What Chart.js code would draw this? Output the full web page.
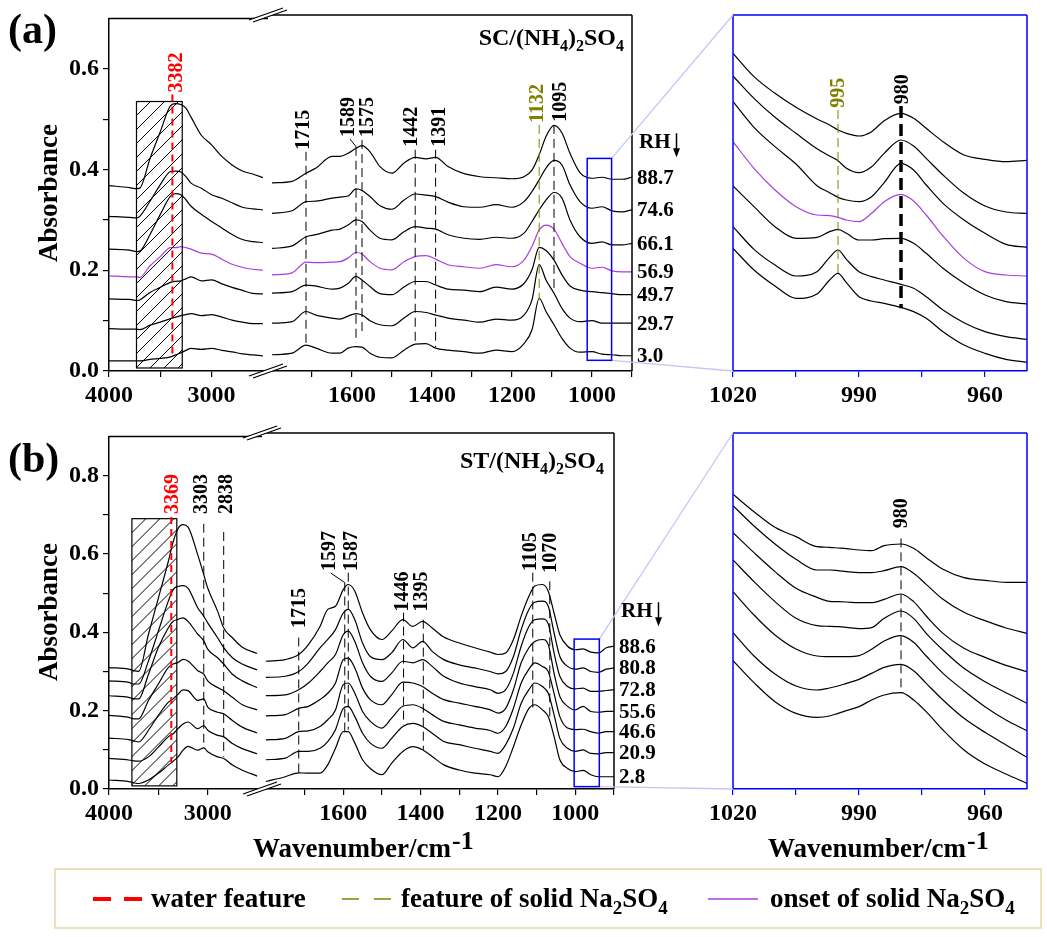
<!DOCTYPE html>
<html>
<head>
<meta charset="utf-8">
<script src="https://cdn.jsdelivr.net/npm/chart.js@4.4.0/dist/chart.umd.min.js"></script>
<style>
  body { margin: 0; background: #fff; }
  #page { position: relative; width: 1047px; height: 937px; }
  canvas { position: absolute; }
</style>
</head>
<body>
<div id="page">
  <canvas id="aL" width="268" height="410" style="left:0;top:0"></canvas>
  <canvas id="aR" width="368" height="410" style="left:268px;top:0"></canvas>
  <canvas id="aI" width="347" height="410" style="left:700px;top:0"></canvas>
  <canvas id="bL" width="262" height="410" style="left:0;top:418px"></canvas>
  <canvas id="bR" width="356" height="410" style="left:262px;top:418px"></canvas>
  <canvas id="bI" width="347" height="410" style="left:700px;top:418px"></canvas>
  <canvas id="ov" width="1047" height="937" style="left:0;top:0;pointer-events:none"></canvas>
</div>
<script>
// wavenumber grids (cm-1)
const WN_HI_A = [4000, 3800, 3730, 3700, 3600, 3500, 3400, 3350, 3300, 3250, 3200, 3100, 3000, 2900, 2800, 2700, 2600, 2500];
const WN_HI_B = [4000, 3800, 3750, 3700, 3600, 3500, 3400, 3350, 3300, 3250, 3200, 3100, 3040, 3000, 2900, 2838, 2750, 2650, 2500];
const WN_LO_A = [1800, 1750, 1715, 1690, 1650, 1630, 1610, 1590, 1575, 1555, 1530, 1500, 1470, 1442, 1415, 1391, 1360,
                 1320, 1280, 1240, 1200, 1170, 1150, 1132, 1115, 1095, 1075, 1055, 1030, 1000, 975, 950, 925, 900];
const WN_LO_B = [1800, 1750, 1715, 1690, 1660, 1640, 1620, 1600, 1587, 1570, 1550, 1530, 1500, 1475, 1446, 1420, 1395,
                 1370, 1340, 1300, 1260, 1220, 1200, 1180, 1160, 1140, 1120, 1105, 1085, 1070, 1055, 1040, 1020, 1000,
                 980, 960, 940, 920, 900];
const WN_IN = [1020, 1015, 1010, 1005, 1000, 997, 995, 993, 990, 987, 984, 980, 977, 974, 970, 965, 960, 955, 950];

const RH_A = ['88.7', '74.6', '66.1', '56.9', '49.7', '29.7', '3.0'];
const RH_B = ['88.6', '80.8', '72.8', '55.6', '46.6', '20.9', '2.8'];

// (a) SC/(NH4)2SO4, absorbance, top spectrum first
const A_HI = [
  [0.368, 0.364, 0.362, 0.363, 0.422, 0.475, 0.527, 0.531, 0.529, 0.522, 0.504, 0.468, 0.449, 0.426, 0.409, 0.397, 0.391, 0.384],
  [0.307, 0.305, 0.304, 0.307, 0.337, 0.370, 0.396, 0.397, 0.395, 0.386, 0.373, 0.363, 0.350, 0.343, 0.334, 0.325, 0.322, 0.320],
  [0.242, 0.240, 0.237, 0.238, 0.271, 0.311, 0.347, 0.352, 0.350, 0.340, 0.327, 0.311, 0.297, 0.284, 0.271, 0.261, 0.257, 0.255],
  [0.189, 0.187, 0.187, 0.186, 0.209, 0.227, 0.245, 0.245, 0.247, 0.245, 0.242, 0.234, 0.232, 0.222, 0.212, 0.206, 0.202, 0.200],
  [0.143, 0.142, 0.140, 0.141, 0.156, 0.166, 0.176, 0.178, 0.179, 0.183, 0.187, 0.179, 0.181, 0.173, 0.166, 0.160, 0.154, 0.153],
  [0.084, 0.083, 0.083, 0.082, 0.091, 0.097, 0.104, 0.107, 0.110, 0.112, 0.114, 0.110, 0.112, 0.107, 0.101, 0.097, 0.094, 0.094],
  [0.020, 0.020, 0.020, 0.020, 0.023, 0.025, 0.028, 0.032, 0.036, 0.041, 0.045, 0.043, 0.045, 0.041, 0.038, 0.034, 0.032, 0.030]
];
const A_LO = [
  [0.370, 0.373, 0.389, 0.399, 0.422, 0.422, 0.428, 0.438, 0.443, 0.431, 0.402, 0.389, 0.409, 0.420, 0.417, 0.420, 0.402,
   0.388, 0.382, 0.380, 0.378, 0.382, 0.395, 0.425, 0.461, 0.483, 0.468, 0.428, 0.390, 0.379, 0.381, 0.377, 0.377, 0.381],
  [0.310, 0.315, 0.333, 0.334, 0.340, 0.342, 0.344, 0.358, 0.355, 0.343, 0.325, 0.318, 0.336, 0.348, 0.346, 0.343, 0.332,
   0.323, 0.322, 0.327, 0.322, 0.333, 0.353, 0.376, 0.399, 0.414, 0.405, 0.366, 0.333, 0.320, 0.323, 0.315, 0.313, 0.317],
  [0.241, 0.246, 0.264, 0.268, 0.277, 0.279, 0.287, 0.297, 0.294, 0.277, 0.261, 0.258, 0.274, 0.284, 0.281, 0.279, 0.268,
   0.261, 0.259, 0.263, 0.261, 0.271, 0.294, 0.317, 0.336, 0.351, 0.340, 0.297, 0.264, 0.251, 0.254, 0.248, 0.248, 0.251],
  [0.189, 0.193, 0.214, 0.213, 0.214, 0.215, 0.222, 0.233, 0.230, 0.215, 0.202, 0.199, 0.215, 0.225, 0.227, 0.220, 0.209,
   0.205, 0.202, 0.209, 0.205, 0.218, 0.245, 0.277, 0.287, 0.279, 0.251, 0.225, 0.212, 0.202, 0.204, 0.197, 0.195, 0.195],
  [0.153, 0.156, 0.169, 0.167, 0.161, 0.163, 0.172, 0.186, 0.179, 0.166, 0.152, 0.150, 0.165, 0.176, 0.176, 0.169, 0.161,
   0.159, 0.156, 0.165, 0.161, 0.172, 0.199, 0.243, 0.237, 0.218, 0.189, 0.167, 0.159, 0.156, 0.154, 0.152, 0.150, 0.150],
  [0.094, 0.097, 0.117, 0.110, 0.104, 0.102, 0.108, 0.113, 0.110, 0.099, 0.091, 0.089, 0.104, 0.117, 0.115, 0.110, 0.104,
   0.100, 0.096, 0.102, 0.100, 0.110, 0.140, 0.209, 0.179, 0.153, 0.123, 0.104, 0.097, 0.099, 0.094, 0.094, 0.094, 0.094],
  [0.032, 0.035, 0.051, 0.045, 0.035, 0.035, 0.045, 0.048, 0.047, 0.035, 0.027, 0.026, 0.041, 0.053, 0.054, 0.045, 0.041,
   0.038, 0.035, 0.041, 0.038, 0.054, 0.081, 0.143, 0.117, 0.091, 0.064, 0.045, 0.037, 0.038, 0.033, 0.032, 0.030, 0.030]
];
// zoomed 1020-950 region, arbitrary offset units
const A_IN = [
  [95.3, 88.3, 83.3, 79.1, 75.6, 73.8, 72.3, 71.3, 70.5, 71.8, 75.1, 77.3, 75.8, 72.8, 68.8, 64.8, 63.5, 62.8, 63.2],
  [88.5, 81.8, 76.1, 71.3, 66.7, 64.5, 63.1, 60.8, 59.5, 61.3, 65.3, 69.3, 67.5, 63.8, 58.8, 53.3, 49.5, 47.7, 47.3],
  [80.8, 73.1, 67.3, 62.1, 55.6, 53.5, 52.1, 51.3, 50.8, 52.3, 56.5, 62.3, 60.3, 55.8, 50.3, 45.3, 41.3, 38.0, 37.1],
  [68.8, 60.8, 54.3, 49.3, 46.8, 46.6, 46.1, 45.3, 44.8, 47.3, 50.8, 53.0, 51.0, 46.8, 40.5, 33.8, 29.8, 28.8, 28.5],
  [55.5, 49.3, 43.3, 39.8, 40.1, 41.8, 42.5, 41.3, 39.3, 39.3, 39.7, 39.8, 38.3, 35.3, 30.8, 26.3, 22.8, 20.8, 20.1],
  [43.3, 36.5, 31.8, 28.5, 29.8, 34.1, 36.3, 33.5, 29.8, 28.3, 27.3, 26.0, 24.8, 22.3, 18.3, 14.5, 11.8, 10.3, 9.5],
  [36.8, 30.3, 25.5, 21.8, 23.1, 27.3, 29.3, 26.5, 22.3, 21.0, 20.3, 19.1, 17.8, 15.8, 11.8, 7.8, 5.3, 3.5, 2.6]
];

// (b) ST/(NH4)2SO4
const B_HI = [
  [0.310, 0.306, 0.302, 0.300, 0.395, 0.487, 0.580, 0.631, 0.665, 0.675, 0.669, 0.597, 0.547, 0.513, 0.454, 0.411, 0.386, 0.362, 0.346],
  [0.276, 0.272, 0.268, 0.268, 0.327, 0.403, 0.479, 0.509, 0.517, 0.519, 0.513, 0.462, 0.441, 0.424, 0.386, 0.361, 0.335, 0.319, 0.304],
  [0.238, 0.234, 0.230, 0.230, 0.293, 0.361, 0.411, 0.428, 0.433, 0.437, 0.428, 0.395, 0.378, 0.357, 0.335, 0.319, 0.293, 0.276, 0.259],
  [0.188, 0.183, 0.179, 0.179, 0.226, 0.268, 0.310, 0.319, 0.323, 0.331, 0.327, 0.302, 0.293, 0.276, 0.259, 0.251, 0.234, 0.215, 0.202],
  [0.130, 0.126, 0.123, 0.120, 0.150, 0.188, 0.221, 0.230, 0.242, 0.253, 0.251, 0.226, 0.230, 0.209, 0.196, 0.192, 0.175, 0.158, 0.143],
  [0.078, 0.074, 0.072, 0.071, 0.082, 0.107, 0.133, 0.141, 0.154, 0.166, 0.171, 0.154, 0.162, 0.150, 0.137, 0.133, 0.116, 0.103, 0.090],
  [0.023, 0.019, 0.016, 0.014, 0.023, 0.040, 0.061, 0.071, 0.082, 0.099, 0.109, 0.099, 0.105, 0.095, 0.082, 0.078, 0.061, 0.048, 0.033]
];
const B_LO = [
  [0.323, 0.327, 0.340, 0.365, 0.411, 0.454, 0.462, 0.504, 0.517, 0.500, 0.445, 0.403, 0.378, 0.399, 0.428, 0.411, 0.424, 0.407, 0.384, 0.369,
   0.357, 0.346, 0.340, 0.344, 0.378, 0.437, 0.487, 0.513, 0.517, 0.500, 0.445, 0.390, 0.361, 0.352, 0.354, 0.346, 0.344, 0.357, 0.361],
  [0.282, 0.285, 0.297, 0.319, 0.357, 0.378, 0.403, 0.445, 0.454, 0.428, 0.369, 0.335, 0.327, 0.344, 0.378, 0.357, 0.373, 0.348, 0.327, 0.314,
   0.306, 0.297, 0.291, 0.297, 0.335, 0.403, 0.454, 0.472, 0.475, 0.462, 0.395, 0.335, 0.310, 0.303, 0.306, 0.297, 0.295, 0.303, 0.306],
  [0.236, 0.238, 0.251, 0.268, 0.297, 0.319, 0.340, 0.390, 0.399, 0.373, 0.319, 0.285, 0.272, 0.293, 0.323, 0.319, 0.327, 0.310, 0.285, 0.268,
   0.259, 0.251, 0.242, 0.251, 0.293, 0.361, 0.411, 0.428, 0.430, 0.418, 0.344, 0.285, 0.259, 0.253, 0.255, 0.247, 0.247, 0.249, 0.251],
  [0.185, 0.188, 0.204, 0.209, 0.226, 0.242, 0.268, 0.327, 0.331, 0.306, 0.255, 0.226, 0.213, 0.238, 0.270, 0.268, 0.259, 0.242, 0.226, 0.217,
   0.209, 0.200, 0.192, 0.204, 0.251, 0.319, 0.357, 0.373, 0.378, 0.365, 0.293, 0.234, 0.209, 0.200, 0.209, 0.196, 0.194, 0.196, 0.196],
  [0.124, 0.128, 0.145, 0.147, 0.158, 0.175, 0.200, 0.264, 0.268, 0.242, 0.196, 0.171, 0.154, 0.179, 0.209, 0.213, 0.204, 0.188, 0.171, 0.162,
   0.154, 0.148, 0.141, 0.158, 0.204, 0.268, 0.303, 0.319, 0.310, 0.297, 0.242, 0.183, 0.154, 0.150, 0.151, 0.145, 0.141, 0.145, 0.145],
  [0.074, 0.078, 0.095, 0.095, 0.103, 0.120, 0.150, 0.204, 0.209, 0.183, 0.141, 0.116, 0.103, 0.128, 0.158, 0.166, 0.158, 0.141, 0.120, 0.112,
   0.103, 0.095, 0.090, 0.112, 0.154, 0.217, 0.251, 0.268, 0.259, 0.242, 0.188, 0.128, 0.103, 0.095, 0.099, 0.090, 0.089, 0.092, 0.092],
  [0.019, 0.031, 0.041, 0.040, 0.040, 0.061, 0.103, 0.145, 0.145, 0.116, 0.074, 0.052, 0.036, 0.065, 0.095, 0.107, 0.099, 0.082, 0.061, 0.048,
   0.040, 0.036, 0.031, 0.057, 0.107, 0.162, 0.204, 0.213, 0.200, 0.183, 0.133, 0.074, 0.052, 0.044, 0.047, 0.036, 0.031, 0.031, 0.031]
];
const B_IN = [
  [88.4, 83.2, 78.5, 75.7, 72.7, 72.5, 72.3, 72.1, 71.7, 71.5, 73.0, 73.5, 72.2, 69.4, 65.9, 63.4, 62.6, 62.0, 62.0],
  [85.0, 78.9, 73.5, 68.9, 65.7, 65.7, 65.5, 65.2, 64.9, 64.9, 65.5, 66.7, 64.7, 61.4, 56.9, 53.0, 50.5, 48.3, 46.7],
  [76.9, 70.9, 65.2, 60.2, 57.5, 56.3, 56.2, 56.1, 55.9, 55.9, 56.9, 58.5, 56.2, 51.9, 46.7, 42.2, 39.5, 37.1, 35.2],
  [68.7, 62.2, 56.2, 51.2, 49.0, 48.8, 48.7, 48.5, 48.1, 48.4, 51.2, 53.4, 51.2, 46.7, 41.7, 36.2, 32.2, 28.9, 25.7],
  [59.2, 52.2, 46.2, 42.0, 39.9, 39.7, 39.7, 39.7, 40.0, 41.9, 44.4, 46.0, 44.0, 39.9, 34.7, 29.5, 24.7, 20.7, 17.5],
  [46.9, 39.9, 34.5, 30.9, 29.7, 30.3, 30.9, 31.7, 32.9, 34.7, 36.5, 37.4, 35.5, 31.7, 26.7, 21.2, 17.0, 13.2, 9.5],
  [38.5, 31.9, 26.2, 22.7, 21.5, 21.9, 22.7, 23.5, 24.7, 26.7, 28.2, 28.9, 26.7, 23.2, 17.7, 11.7, 7.5, 4.5, 1.7]
];

// marked bands: wavenumber, dashed line top/bottom, label foot (same units as the panel)
const PEAKS_A = [
  {seg: 'hi', wn: 3382, top: 0.549, bot: 0.028, text: 0.553, label: '3382', kind: 'water'},
  {seg: 'lo', wn: 1715, top: 0.431, bot: 0.055, text: 0.435, label: '1715'},
  {seg: 'lo', wn: 1590, top: 0.441, bot: 0.055, text: 0.460, label: '1589', lead: true},
  {seg: 'lo', wn: 1575, top: 0.454, bot: 0.071, text: 0.460, label: '1575'},
  {seg: 'lo', wn: 1442, top: 0.435, bot: 0.051, text: 0.441, label: '1442'},
  {seg: 'lo', wn: 1391, top: 0.435, bot: 0.047, text: 0.441, label: '1391'},
  {seg: 'lo', wn: 1132, top: 0.484, bot: 0.140, text: 0.488, label: '1132', kind: 'solid'},
  {seg: 'lo', wn: 1095, top: 0.484, bot: 0.153, text: 0.490, label: '1095'},
  {seg: 'in', wn: 995, top: 78.3, bot: 28.8, text: 79.0, label: '995', kind: 'solid'},
  {seg: 'in', wn: 980, top: 79.5, bot: 18.8, text: 80.0, label: '980', kind: 'onset'}
];
const PEAKS_B = [
  {seg: 'hi', wn: 3369, top: 0.694, bot: 0.069, text: 0.702, label: '3369', kind: 'water'},
  {seg: 'hi', wn: 3040, top: 0.677, bot: 0.107, text: 0.702, label: '3303'},
  {seg: 'hi', wn: 2838, top: 0.656, bot: 0.082, text: 0.702, label: '2838'},
  {seg: 'lo', wn: 1715, top: 0.383, bot: 0.041, text: 0.407, label: '1715'},
  {seg: 'lo', wn: 1596, top: 0.522, bot: 0.142, text: 0.551, label: '1597', lead: true},
  {seg: 'lo', wn: 1587, top: 0.547, bot: 0.150, text: 0.551, label: '1587'},
  {seg: 'lo', wn: 1444, top: 0.446, bot: 0.162, text: 0.449, label: '1446'},
  {seg: 'lo', wn: 1393, top: 0.428, bot: 0.099, text: 0.449, label: '1395'},
  {seg: 'lo', wn: 1110, top: 0.547, bot: 0.196, text: 0.551, label: '1105'},
  {seg: 'lo', wn: 1066, top: 0.525, bot: 0.175, text: 0.547, label: '1070'},
  {seg: 'in', wn: 980, top: 75.2, bot: 28.7, text: 78.2, label: '980'}
];
const NUDGE_A = {'3382': 3, '1715': -3, '1589': -8, '1575': 5, '1442': -4, '1391': 3, '1132': -2, '1095': 6, '980': 1};
const NUDGE_B = {'3369': 1, '3303': -3, '2838': 2, '1597': -16, '1587': 3, '1446': -2, '1395': -2, '1105': -3};

// hatched O-H region and zoom window: [wn from, wn to, abs low, abs high]
const HATCH_A = [3732, 3286, 0.006, 0.535];
const HATCH_B = [3768, 3313, 0.008, 0.690];
const ZOOM_A = [1012, 951, 0.021, 0.418];
const ZOOM_B = [1003, 938, 0.006, 0.379];

const SERIF = '"Liberation Serif", "Times New Roman", serif';
const TICK_FONT = {family: SERIF, size: 24, weight: 'bold'};
const PURPLE = '#a83ee0';
const OLIVE = '#808000';
const COL_A = ['#000', '#000', '#000', PURPLE, '#000', '#000', '#000'];
const COL_B = ['#000', '#000', '#000', '#000', '#000', '#000', '#000'];

const frame = {
  id: 'frame',
  afterDraw(chart, args, opts) {
    const a = chart.chartArea, ctx = chart.ctx;
    ctx.save();
    ctx.strokeStyle = opts.color;
    ctx.lineWidth = 1.5;
    ctx.beginPath();
    if (opts.sides.includes('top')) { ctx.moveTo(a.left, a.top); ctx.lineTo(a.right, a.top); }
    if (opts.sides.includes('right')) { ctx.moveTo(a.right, a.top); ctx.lineTo(a.right, a.bottom); }
    if (opts.sides.includes('left')) { ctx.moveTo(a.left, a.top); ctx.lineTo(a.left, a.bottom); }
    ctx.stroke();
    ctx.restore();
  }
};

function spectrum(id, xs, rows, colors, s) {
  const yTicks = s.yTicks || [];
  const yLabels = s.yLabels || [];
  return new Chart(document.getElementById(id), {
    type: 'line',
    data: {
      datasets: rows.map((r, i) => ({
        data: r.map((v, j) => ({x: xs[j], y: v})),
        borderColor: colors[i],
        borderWidth: 1.2,
        pointRadius: 0,
        cubicInterpolationMode: 'monotone',
        fill: false
      }))
    },
    options: {
      responsive: false,
      animation: false,
      events: [],
      layout: {padding: s.pad},
      plugins: {legend: {display: false}, tooltip: {enabled: false}, frame: {sides: s.sides, color: s.ink}},
      scales: {
        x: {
          type: 'linear', reverse: true, min: s.x[0], max: s.x[1],
          afterBuildTicks: sc => { sc.ticks = s.xTicks.map(v => ({value: v})); },
          afterFit: sc => { sc.height = 39; },
          ticks: {autoSkip: false, maxRotation: 0, padding: 4, color: '#000', font: TICK_FONT,
                  callback: v => s.xLabels.includes(v) ? String(v) : ''},
          grid: {drawOnChartArea: false, tickLength: 6, color: s.ink, lineWidth: 1.2},
          border: {color: s.ink, width: 1.5}
        },
        y: {
          type: 'linear', display: yTicks.length > 0, min: 0, max: s.y,
          afterBuildTicks: sc => { sc.ticks = yTicks.map(v => ({value: v})); },
          afterFit: sc => { sc.width = yTicks.length ? 109 : 0; },
          ticks: {autoSkip: false, padding: 4, color: '#000', font: TICK_FONT,
                  callback: v => yLabels.includes(v) ? v.toFixed(1) : ''},
          grid: {drawOnChartArea: false, tickLength: 6, color: s.ink, lineWidth: 1.2},
          border: {color: s.ink, width: 1.5}
        }
      }
    },
    plugins: [frame]
  });
}

const LO_TICKS = [1700, 1600, 1500, 1400, 1300, 1200, 1100, 1000, 900];
const LO_LABELS = [1600, 1400, 1200, 1000];
const IN_TICKS = [1020, 1005, 990, 975, 960];
const IN_LABELS = [1020, 990, 960];
const PAD_MAIN = {left: 0, right: 0, top: 15, bottom: 0};
const PAD_IN = {left: 33, right: 20, top: 15, bottom: 0};

const A = {
  hi: {ox: 0, oy: 0, chart: spectrum('aL', WN_HI_A, A_HI, COL_A, {pad: PAD_MAIN, sides: ['top'], ink: '#000',
        x: [2450, 4000], xTicks: [4000, 3500, 3000], xLabels: [4000, 3000], y: 0.7,
        yTicks: [0, 0.1, 0.2, 0.3, 0.4, 0.5, 0.6], yLabels: [0, 0.2, 0.4, 0.6]})},
  lo: {ox: 268, oy: 0, chart: spectrum('aR', WN_LO_A, A_LO, COL_A, {pad: PAD_MAIN, sides: ['top', 'right'], ink: '#000',
        x: [900, 1810], xTicks: LO_TICKS, xLabels: LO_LABELS, y: 0.7})},
  in: {ox: 700, oy: 0, chart: spectrum('aI', WN_IN, A_IN, COL_A, {pad: PAD_IN, sides: ['top', 'right', 'left'], ink: '#0000ff',
        x: [950, 1020], xTicks: IN_TICKS, xLabels: IN_LABELS, y: 106.8})}
};
const B = {
  hi: {ox: 0, oy: 418, chart: spectrum('bL', WN_HI_B, B_HI, COL_B, {pad: PAD_MAIN, sides: ['top'], ink: '#000',
        x: [2450, 4000], xTicks: [4000, 3500, 3000], xLabels: [4000, 3000], y: 0.9,
        yTicks: [0, 0.1, 0.2, 0.3, 0.4, 0.5, 0.6, 0.7, 0.8], yLabels: [0, 0.2, 0.4, 0.6, 0.8]})},
  lo: {ox: 262, oy: 418, chart: spectrum('bR', WN_LO_B, B_LO, COL_B, {pad: PAD_MAIN, sides: ['top', 'right'], ink: '#000',
        x: [900, 1810], xTicks: LO_TICKS, xLabels: LO_LABELS, y: 0.9})},
  in: {ox: 700, oy: 418, chart: spectrum('bI', WN_IN, B_IN, COL_B, {pad: PAD_IN, sides: ['top', 'right', 'left'], ink: '#0000ff',
        x: [950, 1020], xTicks: IN_TICKS, xLabels: IN_LABELS, y: 106.8})}
};

// ---------- overlay: annotations, labels, legend ----------
const ov = document.getElementById('ov').getContext('2d');

function at(p, x, y) {
  return [p.ox + p.chart.scales.x.getPixelForValue(x), p.oy + p.chart.scales.y.getPixelForValue(y)];
}
function area(p) {
  const a = p.chart.chartArea;
  return {left: p.ox + a.left, right: p.ox + a.right, top: p.oy + a.top, bottom: p.oy + a.bottom};
}
function font(size, bold) { return (bold === false ? '' : 'bold ') + size + 'px ' + SERIF; }

function rich(parts, x, y, size, subSize, align) {
  let w = 0;
  parts.forEach(([t, sub]) => { ov.font = font(sub ? subSize : size); w += ov.measureText(t).width; });
  let cx = align === 'right' ? x - w : x;
  ov.textAlign = 'left';
  ov.textBaseline = 'alphabetic';
  parts.forEach(([t, sub]) => {
    ov.font = font(sub ? subSize : size);
    ov.fillText(t, cx, sub ? y + size * 0.27 : y);
    cx += ov.measureText(t).width;
  });
}

function peakStyle(kind) {
  if (kind === 'water') return {color: '#ff0000', width: 2, dash: [7, 5]};
  if (kind === 'solid') return {color: OLIVE, width: 1, dash: [9, 5]};
  if (kind === 'onset') return {color: '#000', width: 3.5, dash: [12, 6]};
  return {color: '#000', width: 1, dash: [9, 5]};
}

function drawPeaks(P, peaks, nudge) {
  peaks.forEach(pk => {
    const p = P[pk.seg];
    const st = peakStyle(pk.kind);
    const [x, y1] = at(p, pk.wn, pk.top);
    const y2 = at(p, pk.wn, pk.bot)[1];
    const yt = at(p, pk.wn, pk.text)[1];
    ov.save();
    ov.strokeStyle = st.color;
    ov.lineWidth = st.width;
    ov.setLineDash(st.dash);
    ov.beginPath(); ov.moveTo(x, y1); ov.lineTo(x, y2); ov.stroke();
    ov.setLineDash([]);
    const tx = x + (nudge[pk.label] || 0);
    if (pk.lead) {
      ov.lineWidth = 1;
      ov.beginPath(); ov.moveTo(tx + 2, yt + 2); ov.lineTo(x, y1); ov.stroke();
    }
    ov.translate(tx, yt);
    ov.rotate(-Math.PI / 2);
    ov.fillStyle = st.color;
    ov.font = font(20);
    ov.textAlign = 'left';
    ov.textBaseline = 'middle';
    ov.fillText(pk.label, 0, 1);
    ov.restore();
  });
}

function drawHatch(p, box) {
  const [x0, y0] = at(p, box[0], box[3]);
  const [x1, y1] = at(p, box[1], box[2]);
  ov.save();
  ov.beginPath(); ov.rect(x0, y0, x1 - x0, y1 - y0); ov.clip();
  ov.beginPath();
  const h = y1 - y0;
  for (let s = x0 - h; s < x1; s += 14) { ov.moveTo(s, y1); ov.lineTo(s + h, y0); }
  ov.strokeStyle = '#000'; ov.lineWidth = 1; ov.stroke();
  ov.restore();
  ov.strokeStyle = '#000'; ov.lineWidth = 1.2;
  ov.strokeRect(x0, y0, x1 - x0, y1 - y0);
}

function drawZoom(P, box) {
  const [x0, y0] = at(P.lo, box[0], box[3]);
  const [x1, y1] = at(P.lo, box[1], box[2]);
  const ia = area(P.in);
  ov.save();
  ov.strokeStyle = '#c6c6f6'; ov.lineWidth = 1.3;
  ov.beginPath();
  ov.moveTo(x1, y0); ov.lineTo(ia.left, ia.top);
  ov.moveTo(x1, y1); ov.lineTo(ia.left, ia.bottom);
  ov.stroke();
  ov.strokeStyle = '#0000ff'; ov.lineWidth = 1.5;
  ov.strokeRect(x0, y0, x1 - x0, y1 - y0);
  ov.restore();
}

function drawBreak(P) {
  const a = area(P.lo);
  [a.top, a.bottom].forEach(y => {
    const x = a.left;
    ov.save();
    ov.fillStyle = '#fff';
    ov.beginPath();
    ov.moveTo(x - 19, y + 5); ov.lineTo(x + 15, y - 7); ov.lineTo(x + 19, y - 5); ov.lineTo(x - 15, y + 7);
    ov.closePath(); ov.fill();
    ov.strokeStyle = '#000'; ov.lineWidth = 1.2;
    ov.beginPath();
    ov.moveTo(x - 19, y + 5); ov.lineTo(x + 15, y - 7);
    ov.moveTo(x - 15, y + 7); ov.lineTo(x + 19, y - 5);
    ov.stroke();
    ov.restore();
  });
}

function drawRH(P, rows, labels) {
  const a = area(P.lo);
  const n = rows[0].length;
  ov.fillStyle = '#000';
  ov.font = font(21);
  ov.textAlign = 'left';
  ov.textBaseline = 'middle';
  let firstY = 0;
  rows.forEach((r, i) => {
    const y = at(P.lo, 900, r[n - 1])[1];
    if (i === 0) firstY = y;
    ov.fillText(labels[i], a.right + 5, y + 1);
  });
  const yh = firstY - 35;
  ov.fillText('RH', a.right + 7, yh);
  const ax = a.right + 7 + ov.measureText('RH').width + 6;
  ov.strokeStyle = '#000'; ov.lineWidth = 1.5;
  ov.beginPath(); ov.moveTo(ax, yh - 9); ov.lineTo(ax, yh + 12); ov.stroke();
  ov.beginPath(); ov.moveTo(ax - 3.5, yh + 6); ov.lineTo(ax, yh + 15); ov.lineTo(ax + 3.5, yh + 6); ov.closePath(); ov.fill();
}

function yTitle(cx, cy) {
  ov.save();
  ov.translate(cx, cy); ov.rotate(-Math.PI / 2);
  ov.font = font(27); ov.fillStyle = '#000'; ov.textAlign = 'center'; ov.textBaseline = 'middle';
  ov.fillText('Absorbance', 0, 0);
  ov.restore();
}

function xTitle(x, y) {
  ov.font = font(27); ov.fillStyle = '#000'; ov.textAlign = 'left'; ov.textBaseline = 'alphabetic';
  ov.fillText('Wavenumber/cm', x, y);
  const w = ov.measureText('Wavenumber/cm').width;
  ov.font = font(26);
  ov.fillText('-1', x + w + 1, y - 8);
}

[[A, HATCH_A, ZOOM_A, PEAKS_A, NUDGE_A], [B, HATCH_B, ZOOM_B, PEAKS_B, NUDGE_B]].forEach(([P, h, z, pk, nd]) => {
  drawZoom(P, z);
  drawHatch(P.hi, h);
  drawPeaks(P, pk, nd);
  drawBreak(P);
});
drawRH(A, A_LO, RH_A);
drawRH(B, B_LO, RH_B);

ov.fillStyle = '#000';
rich([['SC/(NH', 0], ['4', 1], [')', 0], ['2', 1], ['SO', 0], ['4', 1]], area(A.lo).right - 8, 45, 24, 16, 'right');
rich([['ST/(NH', 0], ['4', 1], [')', 0], ['2', 1], ['SO', 0], ['4', 1]], area(B.lo).right - 10, 468, 24, 16, 'right');

ov.font = font(42); ov.textAlign = 'left'; ov.textBaseline = 'alphabetic';
ov.fillText('(a)', 8, 43);
ov.fillText('(b)', 8, 472);
yTitle(50, 193);
yTitle(50, 612);
xTitle(253, 857);
xTitle(768, 857);

// legend
ov.save();
ov.strokeStyle = '#e6d8a6'; ov.lineWidth = 1.5;
ov.strokeRect(55, 869, 986, 59);
ov.strokeStyle = '#ff0000'; ov.lineWidth = 4; ov.setLineDash([18, 13]);
ov.beginPath(); ov.moveTo(93, 899); ov.lineTo(142, 899); ov.stroke();
ov.strokeStyle = OLIVE; ov.lineWidth = 1.5; ov.setLineDash([17, 15]);
ov.beginPath(); ov.moveTo(342, 899); ov.lineTo(391, 899); ov.stroke();
ov.setLineDash([]);
ov.strokeStyle = PURPLE; ov.lineWidth = 1.5;
ov.beginPath(); ov.moveTo(708, 899); ov.lineTo(758, 899); ov.stroke();
ov.restore();
ov.fillStyle = '#000';
rich([['water feature', 0]], 151, 907, 27, 19, 'left');
rich([['feature of solid Na', 0], ['2', 1], ['SO', 0], ['4', 1]], 401, 907, 27, 19, 'left');
rich([['onset of solid Na', 0], ['2', 1], ['SO', 0], ['4', 1]], 770, 907, 27, 19, 'left');
</script>
</body>
</html>
